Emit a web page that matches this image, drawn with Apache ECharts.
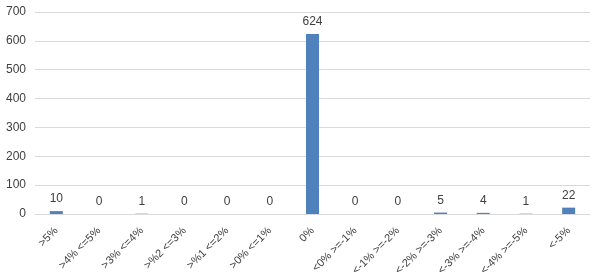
<!DOCTYPE html>
<html><head><meta charset="utf-8">
<script src="https://cdn.jsdelivr.net/npm/echarts@6/dist/echarts.min.js"></script>
<style>html,body{margin:0;padding:0;background:#fff}#c{width:600px;height:280px}</style>
</head><body><div id="c"></div>
<script>
const categories = [">5%", ">4% <=5%", ">3% <=4%", ">%2 <=3%", ">%1 <=2%", ">0% <=1%", "0%", "<0% >=-1%", "<-1% >=-2%", "<-2% >=-3%", "<-3% >=-4%", "<-4% >=-5%", "<-5%"];
const values = [10, 0, 1, 0, 0, 0, 624, 0, 0, 5, 4, 1, 22];
const yTicks = [0, 100, 200, 300, 400, 500, 600, 700];

const chart = echarts.init(document.getElementById('c'));
chart.setOption({
  animation: false,
  grid: {left: 35, right: 10, top: 12, bottom: 66, containLabel: false},
  xAxis: {
    type: 'category', data: categories,
    axisLine: {lineStyle: {color: '#d9d9d9'}},
    axisTick: {show: false},
    axisLabel: {rotate: 45, interval: 0, color: '#404040', fontSize: 11, fontFamily: 'Liberation Sans, Arial', margin: 15}
  },
  yAxis: {
    type: 'value', min: yTicks[0], max: yTicks[yTicks.length-1], interval: 100,
    axisLine: {show: false}, axisTick: {show: false},
    axisLabel: {color: '#404040', fontSize: 12, fontFamily: 'Liberation Sans, Arial', margin: 9},
    splitLine: {lineStyle: {color: '#d9d9d9'}}
  },
  series: [{
    type: 'bar', data: values, barWidth: 13,
    itemStyle: {color: '#4f81bd'},
    label: {show: true, position: 'top', color: '#404040', fontSize: 12, fontFamily: 'Liberation Sans, Arial', distance: 6}
  }]
});
</script></body></html>
